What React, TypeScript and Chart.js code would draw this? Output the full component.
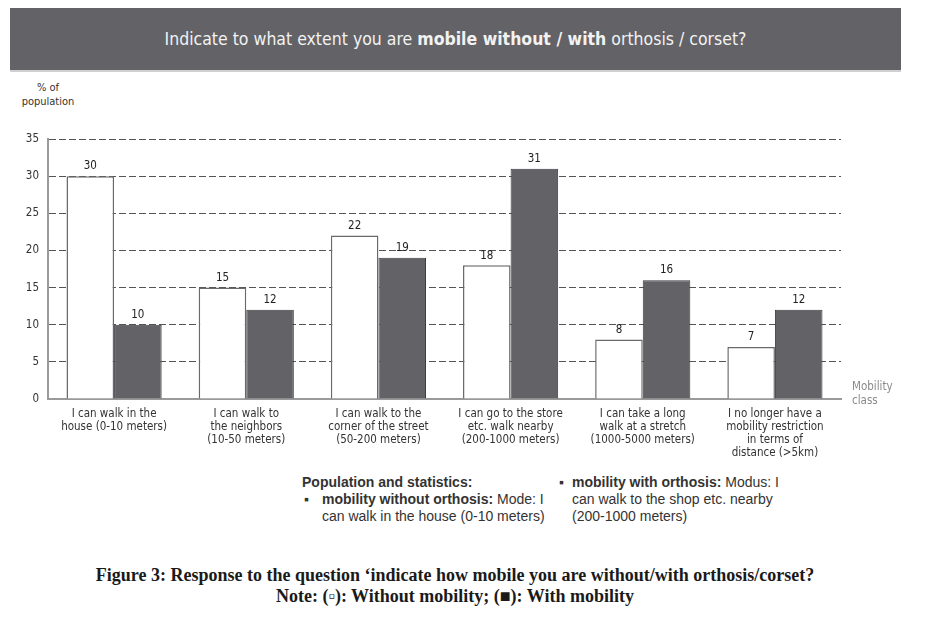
import React, { useEffect, useRef } from "react";
import { Chart, registerables } from "chart.js";

Chart.register(...registerables);

const categories: string[][] = [
  ["I can walk in the", "house (0-10 meters)"],
  ["I can walk to", "the neighbors", "(10-50 meters)"],
  ["I can walk to the", "corner of the street", "(50-200 meters)"],
  ["I can go to the store", "etc. walk nearby", "(200-1000 meters)"],
  ["I can take a long", "walk at a stretch", "(1000-5000 meters)"],
  ["I no longer have a", "mobility restriction", "in terms of", "distance (>5km)"],
];
const withoutOrthosis = [30, 15, 22, 18, 8, 7];
const withOrthosis = [10, 12, 19, 31, 16, 12];
const yTicks = [0, 5, 10, 15, 20, 25, 30, 35];

const NARROW = '"Liberation Sans Narrow", "DejaVu Sans Condensed", "Liberation Sans", Arial, sans-serif';
const SANS = '"Liberation Sans", Arial, sans-serif';

const valueLabels = {
  id: "valueLabels",
  afterDatasetsDraw(chart: any) {
    const ctx = chart.ctx;
    ctx.save();
    ctx.font = `11.5px ${NARROW}`;
    ctx.fillStyle = "#222";
    ctx.textAlign = "center";
    ctx.textBaseline = "bottom";
    chart.data.datasets.forEach((ds: any, i: number) => {
      const meta = chart.getDatasetMeta(i);
      meta.data.forEach((el: any, j: number) => {
        ctx.fillText(String(ds.data[j]), el.x, el.y - 4);
      });
    });
    ctx.restore();
  },
};

export default function App() {
  const ref = useRef<HTMLCanvasElement>(null);
  useEffect(() => {
    if (!ref.current) return;
    const chart = new Chart(ref.current, {
      type: "bar",
      data: {
        labels: categories,
        datasets: [
          {
            label: "Without orthosis",
            data: withoutOrthosis,
            backgroundColor: "#ffffff",
            borderColor: "#6a6a6a",
            borderWidth: 1.5,
          },
          {
            label: "With orthosis",
            data: withOrthosis,
            backgroundColor: "#636267",
            borderColor: "#3c3c40",
            borderWidth: 1,
          },
        ],
      },
      options: {
        animation: false,
        responsive: false,
        maintainAspectRatio: false,
        layout: { padding: { top: 19, right: 99, left: 0, bottom: 0 } },
        plugins: { legend: { display: false }, tooltip: { enabled: false } },
        datasets: { bar: { categoryPercentage: 0.72, barPercentage: 1.0 } },
        scales: {
          x: {
            grid: { display: false },
            border: { color: "#9a9a9a", width: 2 },
            ticks: {
              font: { family: NARROW, size: 11.5, lineHeight: 1.15 },
              color: "#333",
              padding: 0,
              maxRotation: 0,
              autoSkip: false,
            },
            afterFit(scale: any) {
              scale.height = 70;
            },
          },
          y: {
            min: 0,
            max: 35,
            afterBuildTicks(scale: any) {
              scale.ticks = yTicks.map((v) => ({ value: v }));
            },
            grid: { color: "#555", lineWidth: 1, drawTicks: false },
            border: { color: "#9a9a9a", width: 2, dash: [7, 3] },
            ticks: {
              font: { family: NARROW, size: 11.5 },
              color: "#333",
              padding: 9,
            },
            afterFit(scale: any) {
              scale.width = 48;
            },
          },
        },
      },
      plugins: [valueLabels],
    });
    return () => chart.destroy();
  }, []);

  return (
    <div
      style={{
        position: "fixed",
        left: 0,
        top: 0,
        width: 940,
        height: 618,
        background: "#fff",
        overflow: "hidden",
      }}
    >
      <div
        style={{
          position: "absolute",
          left: 10,
          top: 8,
          width: 891,
          height: 62,
          background: "#636267",
          borderBottom: "2px solid #d0d0d0",
          color: "#f2f2f2",
          fontFamily: NARROW,
          fontSize: 17.5,
          lineHeight: "62px",
          textAlign: "center",
        }}
      >
        Indicate to what extent you are <b>mobile without / with</b> orthosis / corset?
      </div>
      <div
        style={{
          position: "absolute",
          left: 8,
          top: 81,
          width: 80,
          textAlign: "center",
          fontFamily: NARROW,
          fontSize: 11,
          lineHeight: "14px",
          color: "#333",
        }}
      >
        % of
        <br />
        population
      </div>
      <canvas
        ref={ref}
        width={940}
        height={349}
        style={{ position: "absolute", left: 0, top: 120, width: 940, height: 349 }}
      />
      <div
        style={{
          position: "absolute",
          left: 852,
          top: 379,
          fontFamily: NARROW,
          fontSize: 11.5,
          lineHeight: "14px",
          color: "#8a8a8a",
        }}
      >
        Mobility
        <br />
        class
      </div>
      <div
        style={{
          position: "absolute",
          left: 302,
          top: 474,
          width: 260,
          fontFamily: SANS,
          fontSize: 14,
          lineHeight: "17px",
          color: "#333",
        }}
      >
        <b>Population and statistics:</b>
        <div style={{ position: "relative", paddingLeft: 20 }}>
          <span style={{ position: "absolute", left: 2, top: 0 }}>▪</span>
          <b>mobility without orthosis:</b> Mode: I
          <br />
          can walk in the house (0-10 meters)
        </div>
      </div>
      <div
        style={{
          position: "absolute",
          left: 552,
          top: 474,
          width: 260,
          fontFamily: SANS,
          fontSize: 14,
          lineHeight: "17px",
          color: "#333",
        }}
      >
        <div style={{ position: "relative", paddingLeft: 20 }}>
          <span style={{ position: "absolute", left: 7, top: 0 }}>▪</span>
          <b>mobility with orthosis:</b> Modus: I
          <br />
          can walk to the shop etc. nearby
          <br />
          (200-1000 meters)
        </div>
      </div>
      <div
        style={{
          position: "absolute",
          left: 0,
          top: 565,
          width: 910,
          textAlign: "center",
          fontFamily: '"Liberation Serif", "DejaVu Serif", serif',
          fontWeight: "bold",
          fontSize: 18,
          lineHeight: "21px",
          color: "#1a1a1a",
        }}
      >
        Figure 3: Response to the question ‘indicate how mobile you are without/with orthosis/corset?
        <br />
        Note: (▫): Without mobility; (■): With mobility
      </div>
    </div>
  );
}
